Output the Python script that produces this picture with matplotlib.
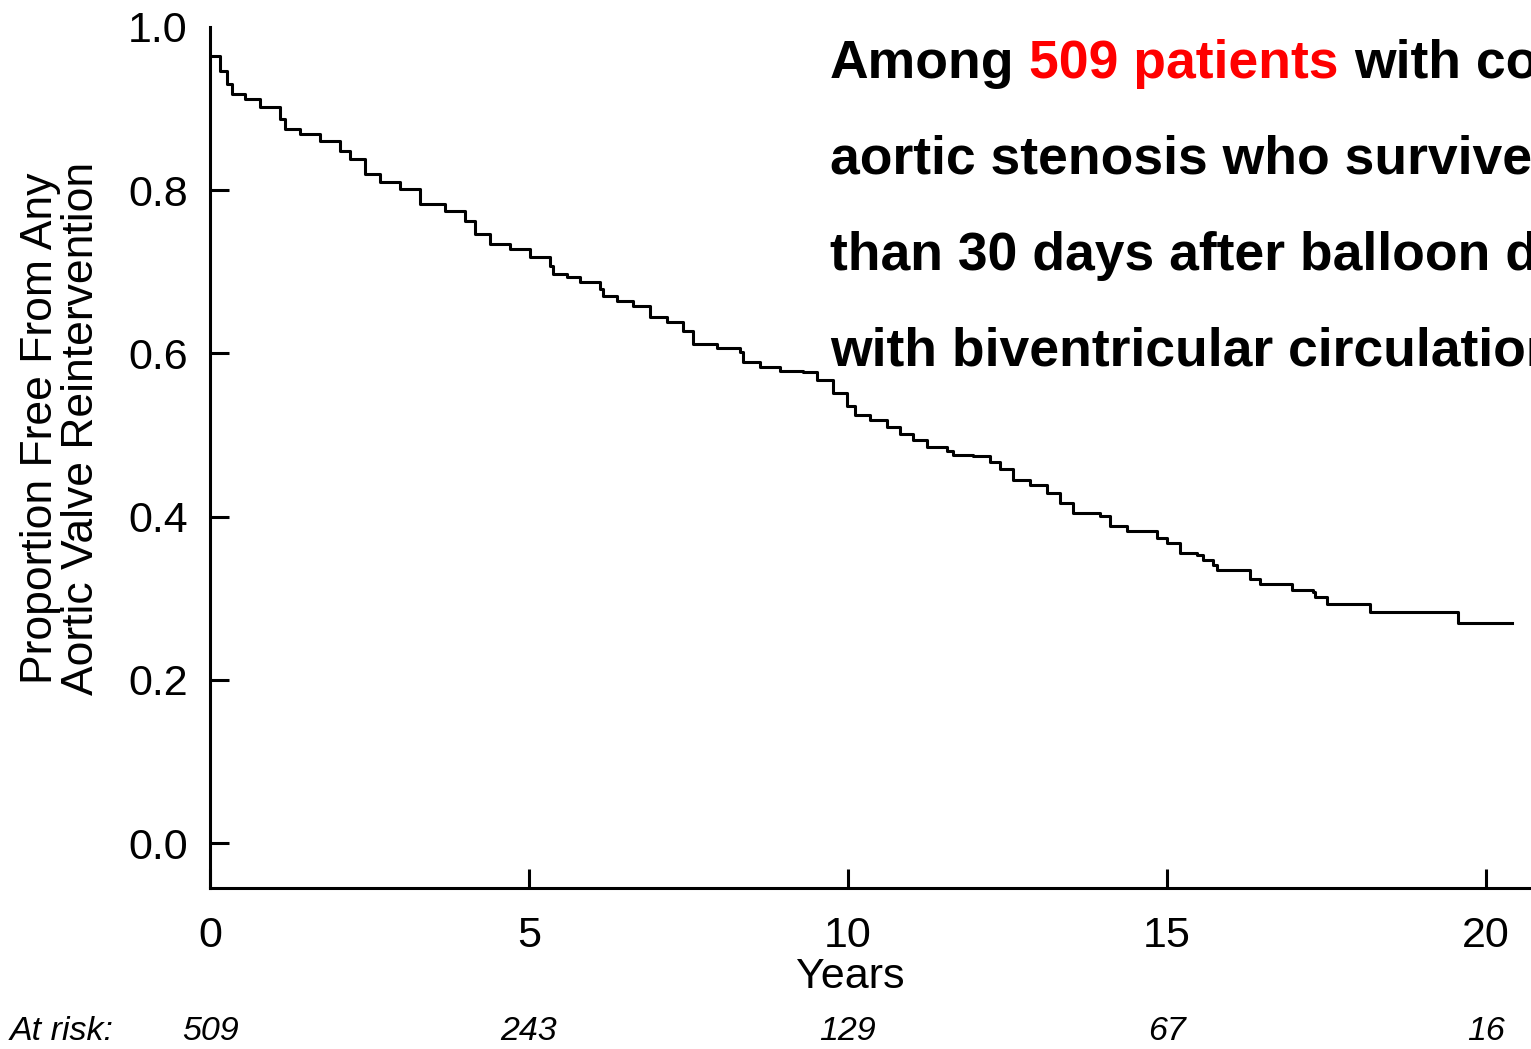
import matplotlib
matplotlib.use('Agg')
import matplotlib.pyplot as plt
import matplotlib.transforms as mtransforms

plt.rcParams['font.family'] = ['Liberation Sans', 'DejaVu Sans']

# Kaplan-Meier style step curve (years, proportion free)
years = [0.00, 0.157, 0.266, 0.345, 0.549, 0.784, 1.097, 1.176, 1.411, 1.724,
         2.038, 2.194, 2.429, 2.665, 2.978, 3.292, 3.683, 3.997, 4.154, 4.389,
         4.702, 5.016, 5.329, 5.376, 5.596, 5.799, 6.113, 6.160, 6.379, 6.630,
         6.897, 7.163, 7.414, 7.571, 7.947, 8.307, 8.354, 8.621, 8.934, 9.295,
         9.514, 9.765, 9.984, 10.11, 10.34, 10.61, 10.82, 11.02, 11.24, 11.55,
         11.65, 11.96, 12.23, 12.38, 12.59, 12.85, 13.12, 13.32, 13.53, 13.95,
         14.11, 14.37, 14.84, 15.00, 15.20, 15.47, 15.56, 15.72, 15.78, 16.30,
         16.46, 16.97, 17.29, 17.32, 17.51, 18.18, 19.56, 20.41]
free = [0.964, 0.946, 0.930, 0.918, 0.912, 0.902, 0.887, 0.875, 0.869, 0.860,
        0.848, 0.838, 0.820, 0.810, 0.801, 0.783, 0.774, 0.762, 0.746, 0.734,
        0.728, 0.718, 0.707, 0.697, 0.694, 0.687, 0.679, 0.670, 0.664, 0.658,
        0.645, 0.638, 0.627, 0.611, 0.607, 0.602, 0.590, 0.583, 0.578, 0.577,
        0.568, 0.552, 0.535, 0.525, 0.519, 0.510, 0.501, 0.494, 0.485, 0.480,
        0.475, 0.474, 0.467, 0.458, 0.445, 0.439, 0.429, 0.417, 0.405, 0.401,
        0.388, 0.382, 0.374, 0.368, 0.356, 0.353, 0.347, 0.341, 0.335, 0.323,
        0.317, 0.310, 0.308, 0.302, 0.293, 0.283, 0.270, 0.270]

x_ticks = [0, 5, 10, 15, 20]
y_ticks = [0.0, 0.2, 0.4, 0.6, 0.8, 1.0]
y_tick_labels = ['0.0', '0.2', '0.4', '0.6', '0.8', '1.0']
at_risk = [509, 243, 129, 67, 16]

lines = [
    ['Among ', '509 patients', ' with congenital'],
    ['aortic stenosis who survived more'],
    ['than 30 days after balloon dilation'],
    ['with biventricular circulation'],
]

fig = plt.figure(figsize=(15.31, 10.49), dpi=100)
ax = fig.add_axes([0.1372, 0.1535, 0.8628, 0.8208])

ax.step(years, free, where='post', color='black', lw=2.2)

ax.set_xlim(0, 20.71)
ax.set_ylim(-0.055, 1.0)
ax.spines['top'].set_visible(False)
ax.spines['right'].set_visible(False)
ax.spines['left'].set_linewidth(2.2)
ax.spines['bottom'].set_linewidth(2.2)

ax.set_xticks(x_ticks)
ax.set_xticklabels([str(v) for v in x_ticks])
ax.set_yticks(y_ticks)
ax.set_yticklabels(y_tick_labels)
ax.tick_params(direction='in', length=14, width=2.2, labelsize=31)
ax.tick_params(axis='y', pad=16)
ax.tick_params(axis='x', pad=20)
ax.yaxis.get_major_ticks()[-1].tick1line.set_visible(False)

ax.set_xlabel('Years', fontsize=31)
ax.xaxis.set_label_coords((850 - 210) / (1531 - 210), -(977 - 888) / (888 - 27))
ax.xaxis.label.set_va('center')

fig.text(61 / 1531, 1 - 428 / 1049, 'Proportion Free From Any\nAortic Valve Reintervention',
         rotation=90, ha='center', va='center', fontsize=32, linespacing=1.0)

# at-risk row
y_risk = 1 - 1031 / 1049
fig.text(10 / 1531, y_risk, 'At risk:', style='italic', fontsize=24.5, ha='left', va='center')
risk_trans = mtransforms.blended_transform_factory(ax.transData, fig.transFigure)
for t, n in zip(x_ticks, at_risk):
    ax.text(t, y_risk, str(n), transform=risk_trans, style='italic', fontsize=24.5,
            ha='center', va='center')

# annotation text block
fs = 38.5
x0 = 830 / 1531
base = [78, 174, 270, 366]
space_pt = 0.278 * fs
for parts, yb in zip(lines, base):
    y = 1 - yb / 1049
    if len(parts) == 1:
        fig.text(x0, y, parts[0], fontsize=fs, fontweight='bold', va='baseline', ha='left')
    else:
        t1 = fig.text(x0, y, parts[0].strip(), fontsize=fs, fontweight='bold', va='baseline', ha='left')
        t2 = ax.annotate(parts[1], xy=(1, 0), xycoords=t1, xytext=(space_pt, 0),
                         textcoords='offset points', fontsize=fs, fontweight='bold',
                         color='#ff0000', va='bottom', ha='left', annotation_clip=False)
        ax.annotate(parts[2].strip(), xy=(1, 0), xycoords=t2, xytext=(space_pt, 0),
                    textcoords='offset points', fontsize=fs, fontweight='bold',
                    color='black', va='bottom', ha='left', annotation_clip=False)

fig.savefig('out.png', dpi=100)
